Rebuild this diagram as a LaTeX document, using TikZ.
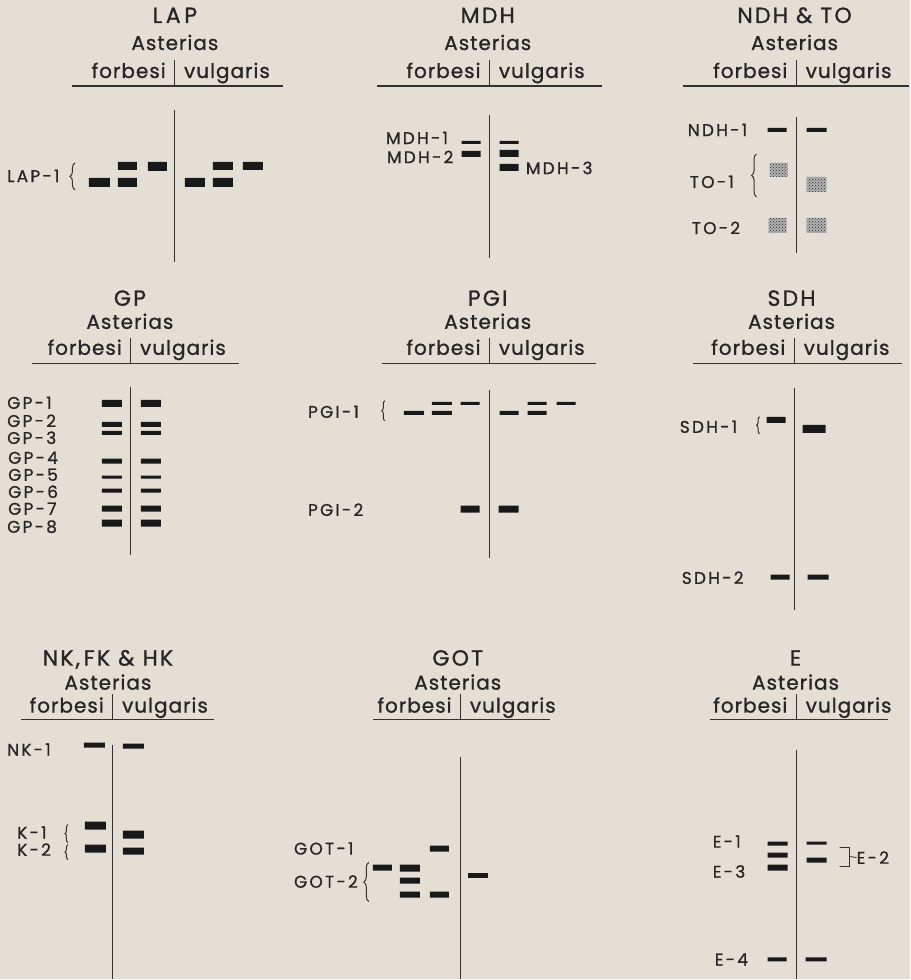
\documentclass[tikz,border=0pt]{standalone}
\usepackage{fontspec}
\setmainfont{Poppins}
\newfontfamily\ttlfont[LetterSpace=10,FakeBold=1]{Poppins}
\newfontfamily\hdrfont[LetterSpace=5,FakeBold=1]{Poppins}
\newfontfamily\lblfont[LetterSpace=13,FakeBold=0.8]{Poppins}
\usetikzlibrary{decorations.pathreplacing,patterns}
\definecolor{bgcol}{RGB}{229,222,212}

\begin{document}
\begin{tikzpicture}[x=1pt,y=-1pt,
    ttl/.style={font=\ttlfont\fontsize{22}{22}\selectfont, inner sep=0pt, text=black!85},
    hdr/.style={font=\hdrfont\fontsize{20}{20}\selectfont, inner sep=0pt, text=black!85},
    lbl/.style={font=\lblfont\fontsize{17}{17}\selectfont, inner sep=0pt, anchor=west, text=black!85},
    gel/.style={line width=1.1pt, draw=black!80},
    band/.style={fill=black!90},
    stip/.style={fill=black!30, postaction={pattern=crosshatch dots, pattern color=black!85}},
    brc/.style={decorate, decoration={brace, amplitude=#1}, line width=1pt, draw=black!80},
    brc/.default=4pt]

  \fill[bgcol] (0,0) rectangle (911,980);

  \foreach \id/\tx/\x/\ttl/\xa/\xb in {lap/175/175/L\,A\,P/72/283, mdh/488/490/MDH/377/602, ndh/795/797/{NDH \& TO}/683/910} {
    \node[ttl, anchor=base] (\id-t) at (\tx,23) {\ttl};
    \node[hdr, anchor=base] (\id-a) at (\tx,50) {Asterias};
    \node[hdr, anchor=base east] (\id-f) at (\x-9,78) {forbesi};
    \node[hdr, anchor=base west] (\id-v) at (\x+9,78) {vulgaris};
    \draw[gel] (\xa,86) -- (\xb,86) (\x,60) -- (\x,86);
  }
  \foreach \id/\tx/\x/\ttl/\xa/\xb in {gp/130/131/GP/32/239, pgi/488/490/PGI/382/596, sdh/792/795/SDH/693/902} {
    \node[ttl, anchor=base] (\id-t) at (\tx,306) {\ttl};
    \node[hdr, anchor=base] (\id-a) at (\tx,329) {Asterias};
    \node[hdr, anchor=base east] (\id-f) at (\x-9,355) {forbesi};
    \node[hdr, anchor=base west] (\id-v) at (\x+9,355) {vulgaris};
    \draw[gel] (\xa,364) -- (\xb,364) (\x,338) -- (\x,364);
  }
  \foreach \id/\tx/\x/\ttl/\xa/\xb in {nk/108/113/{NK,\,FK \& HK}/21/214, got/458/461/GOT/373/550, e/796/797/E/710/888} {
    \node[ttl, anchor=base] (\id-t) at (\tx,666) {\ttl};
    \node[hdr, anchor=base] (\id-a) at (\tx,690) {Asterias};
    \node[hdr, anchor=base east] (\id-f) at (\x-9,713) {forbesi};
    \node[hdr, anchor=base west] (\id-v) at (\x+9,713) {vulgaris};
    \draw[gel] (\xa,720) -- (\xb,720) (\x,694) -- (\x,720);
  }

  \draw[gel] (175,110) -- (175,262);
  \draw[gel] (490,115) -- (490,258);
  \draw[gel] (797,117) -- (797,253);
  \draw[gel] (131,387) -- (131,555);
  \draw[gel] (490,390) -- (490,558);
  \draw[gel] (795,388) -- (795,610);
  \draw[gel] (113,745) -- (113,980);
  \draw[gel] (461,757) -- (461,980);
  \draw[gel] (797,750) -- (797,980);

  \node[lbl] (lap1) at (7,176) {LAP-1};
  \draw[brc=5pt] (75,190) -- (75,163);
  \fill[band] (89,178) rectangle (110,187) (118,162) rectangle (137,170)
    (118,178) rectangle (137,187) (148,162) rectangle (167,171);
  \fill[band] (185,178) rectangle (205,187) (213,162) rectangle (233,170)
    (213,178) rectangle (233,187) (243,162) rectangle (263,170);

  \node[lbl] (mdh1) at (386,138) {MDH-1};
  \node[lbl] (mdh2) at (387,157) {MDH-2};
  \node[lbl] (mdh3) at (526,168) {MDH-3};
  \fill[band] (462,141) rectangle (481,144) (462,151) rectangle (481,157);
  \fill[band] (500,141) rectangle (519,144) (500,150) rectangle (519,157)
    (500,164) rectangle (519,171);

  \node[lbl] (ndh1) at (688,130) {NDH-1};
  \node[lbl] (to1) at (690,182) {TO-1};
  \node[lbl] (to2) at (692,228) {TO-2};
  \draw[brc=5pt] (757,197) -- (757,154);
  \fill[band] (768,128) rectangle (787,132) (807,128) rectangle (827,132);
  \fill[stip] (770,163) rectangle (788,177) (807,177) rectangle (827,192);
  \fill[stip] (769,218) rectangle (787,233) (807,218) rectangle (827,233);

  \node[lbl] (gp1) at (7,403) {GP-1};
  \node[lbl] (gp2) at (7,421) {GP-2};
  \node[lbl] (gp3) at (7,438) {GP-3};
  \node[lbl] (gp4) at (8,458) {GP-4};
  \node[lbl] (gp5) at (8,475) {GP-5};
  \node[lbl] (gp6) at (8,492) {GP-6};
  \node[lbl] (gp7) at (8,509) {GP-7};
  \node[lbl] (gp8) at (7,527) {GP-8};
  \foreach \ya/\yb in {400/407, 422/427, 431/435, 459/464, 476/479, 489/493, 506/512, 520/527}
    \fill[band] (102,\ya) rectangle (122,\yb) (141,\ya) rectangle (161,\yb);

  \node[lbl] (pgi1) at (308,412) {PGI-1};
  \node[lbl] (pgi2) at (308,510) {PGI-2};
  \draw[brc=3pt] (385,421) -- (385,401);
  \fill[band] (404,411) rectangle (424,415) (432,402) rectangle (452,405)
    (432,411) rectangle (452,415) (461,402) rectangle (480,405);
  \fill[band] (500,411) rectangle (519,415) (528,402) rectangle (547,405)
    (528,411) rectangle (547,415) (557,402) rectangle (576,405);
  \fill[band] (461,506) rectangle (480,513) (499,506) rectangle (519,513);

  \node[lbl] (sdh1) at (680,427) {SDH-1};
  \node[lbl] (sdh2) at (682,578) {SDH-2};
  \draw[brc=3pt] (760,434) -- (760,417);
  \fill[band] (767,417) rectangle (786,423) (803,425) rectangle (826,433);
  \fill[band] (771,575) rectangle (790,580) (808,575) rectangle (829,580);

  \node[lbl] (nk1) at (7,750) {NK-1};
  \node[lbl] (k1) at (17,833) {K-1};
  \node[lbl] (k2) at (17,850) {K-2};
  \draw[brc=3pt] (68,843) -- (68,825);
  \draw[brc=3pt] (68,860) -- (68,845);
  \fill[band] (84,743) rectangle (105,748) (123,744) rectangle (144,749);
  \fill[band] (85,822) rectangle (106,830) (85,845) rectangle (106,853);
  \fill[band] (123,831) rectangle (144,839) (123,848) rectangle (144,855);

  \node[lbl] (got1) at (294,849) {GOT-1};
  \node[lbl] (got2) at (294,882) {GOT-2};
  \draw[brc=5pt] (369,902) -- (369,863);
  \fill[band] (373,865) rectangle (392,871) (400,865) rectangle (420,872)
    (400,878) rectangle (420,884) (400,892) rectangle (420,898);
  \fill[band] (430,846) rectangle (449,852) (430,892) rectangle (449,898);
  \fill[band] (468,873) rectangle (488,878);

  \node[lbl] (e1) at (713,842) {E-1};
  \node[lbl] (e3) at (713,872) {E-3};
  \node[lbl] (e4) at (715,960) {E-4};
  \node[lbl] (e2) at (857,858) {E-2};
  \fill[band] (768,842) rectangle (788,846) (768,853) rectangle (788,858)
    (768,865) rectangle (788,871);
  \fill[band] (807,842) rectangle (827,845) (807,858) rectangle (827,863);
  \draw[line width=0.8pt, draw=black!80] (840,848) -- (850,848) -- (850,867) -- (840,867)
    (850,857) -- (e2.west);
  \fill[band] (768,958) rectangle (787,962) (806,958) rectangle (827,962);
\end{tikzpicture}
\end{document}
